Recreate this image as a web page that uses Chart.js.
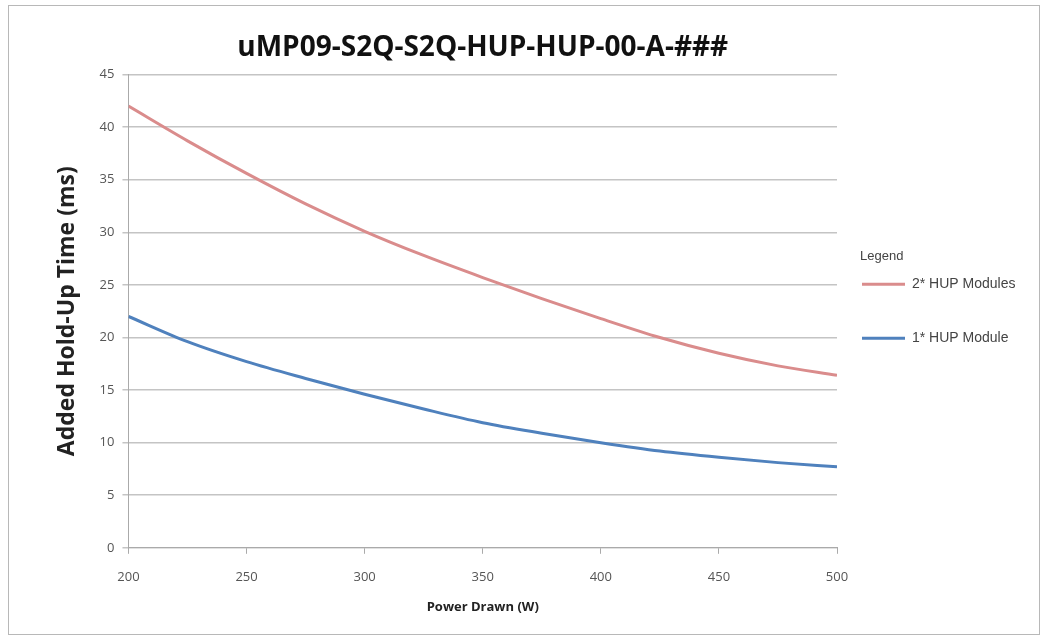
<!DOCTYPE html>
<html>
<head>
<meta charset="utf-8">
<script src="https://cdn.jsdelivr.net/npm/chart.js@4"></script>
<style>
  body { margin: 0; background: #fff; }
  #marco { position: absolute; left: 8px; top: 5px; width: 1030px; height: 628px; border: 1px solid #b8b8b8; }
  #chartHup { display: block; }
</style>
</head>
<body>
<div id="marco"><canvas id="chartHup" width="1030" height="628"></canvas></div>
<script>
// Datos
const potencias = [200, 225, 250, 275, 300, 325, 350, 375, 400, 425, 450, 475, 500];
const dosModulos = [42.0, 38.7, 35.6, 32.7, 30.1, 27.8, 25.7, 23.7, 21.8, 20.0, 18.5, 17.3, 16.4];
const unModulo = [22.0, 19.6, 17.7, 16.1, 14.6, 13.2, 11.9, 10.9, 10.0, 9.2, 8.6, 8.1, 7.7];
const ticksX = [200, 250, 300, 350, 400, 450, 500];
const ticksY = [0, 5, 10, 15, 20, 25, 30, 35, 40, 45];

const fuenteEje = "'Open Sans', sans-serif";
const fuenteLeyenda = "'Liberation Sans', Arial, sans-serif";

// Leyenda a la derecha con título "Legend" (la integrada no deja separar tanto las entradas)
const leyendaDerecha = {
  id: "leyendaDerecha",
  afterDraw(chart) {
    const { ctx, chartArea } = chart;
    const x = chartArea.right;
    const centro = (chartArea.top + chartArea.bottom) / 2;
    ctx.save();
    ctx.textBaseline = "middle";
    ctx.fillStyle = "#444";
    ctx.font = "13px " + fuenteLeyenda;
    ctx.fillText("Legend", x + 23, centro - 55);
    ctx.font = "14px " + fuenteLeyenda;
    chart.data.datasets.forEach((ds, i) => {
      const y = centro - 27 + i * 54;
      ctx.strokeStyle = ds.borderColor;
      ctx.lineWidth = 3;
      ctx.beginPath();
      ctx.moveTo(x + 25, y);
      ctx.lineTo(x + 68, y);
      ctx.stroke();
      ctx.fillStyle = "#444";
      ctx.fillText(ds.label, x + 75, y);
    });
    ctx.restore();
  },
};

document.addEventListener("DOMContentLoaded", () => {
  const ctx = document.getElementById("chartHup").getContext("2d");
  crearGrafico(ctx);
});

function puntos(valores) {
  return potencias.map((p, i) => ({ x: p, y: valores[i] }));
}

function crearGrafico(ctx) {
  new Chart(ctx, {
    type: "line",
    data: {
      datasets: [
        {
          label: "2* HUP Modules",
          data: puntos(dosModulos),
          borderColor: "rgb(218, 140, 140)",
          backgroundColor: "rgb(218, 140, 140)",
          borderWidth: 3,
          pointRadius: 0,
          cubicInterpolationMode: "monotone",
        },
        {
          label: "1* HUP Module",
          data: puntos(unModulo),
          borderColor: "rgb(79, 129, 189)",
          backgroundColor: "rgb(79, 129, 189)",
          borderWidth: 3,
          pointRadius: 0,
          cubicInterpolationMode: "monotone",
        },
      ],
    },
    plugins: [leyendaDerecha],
    options: {
      responsive: false,
      animation: false,
      layout: { padding: { left: 41, right: 202, top: 8, bottom: 15 } },
      plugins: {
        title: {
          display: true,
          fullSize: false,
          text: "uMP09-S2Q-S2Q-HUP-HUP-00-A-###",
          color: "#111",
          font: { family: fuenteEje, size: 28, weight: "bold" },
          padding: { top: 17, bottom: 10 },
        },
        legend: { display: false },
        tooltip: { enabled: false },
      },
      scales: {
        x: {
          type: "linear",
          min: 200,
          max: 500,
          afterBuildTicks: (eje) => { eje.ticks = ticksX.map((v) => ({ value: v })); },
          grid: { display: true, drawOnChartArea: false, tickLength: 6, color: "#aaa" },
          border: { color: "#aaa" },
          ticks: { color: "#555", font: { family: fuenteEje, size: 13 }, padding: 16 },
          title: {
            display: true,
            text: "Power Drawn (W)",
            color: "#222",
            font: { family: fuenteEje, size: 13, weight: "bold" },
            padding: { top: -2 },
          },
        },
        y: {
          min: 0,
          max: 45,
          afterBuildTicks: (eje) => { eje.ticks = ticksY.map((v) => ({ value: v })); },
          grid: { color: "#c4c4c4", lineWidth: 1.5, tickLength: 6 },
          border: { color: "#aaa" },
          ticks: { color: "#555", font: { family: fuenteEje, size: 13 }, padding: 8 },
          title: {
            display: true,
            text: "Added Hold-Up Time (ms)",
            color: "#222",
            font: { family: fuenteEje, size: 23, weight: "bold" },
            padding: { bottom: 10 },
          },
        },
      },
    },
  });
}
</script>
</body>
</html>
